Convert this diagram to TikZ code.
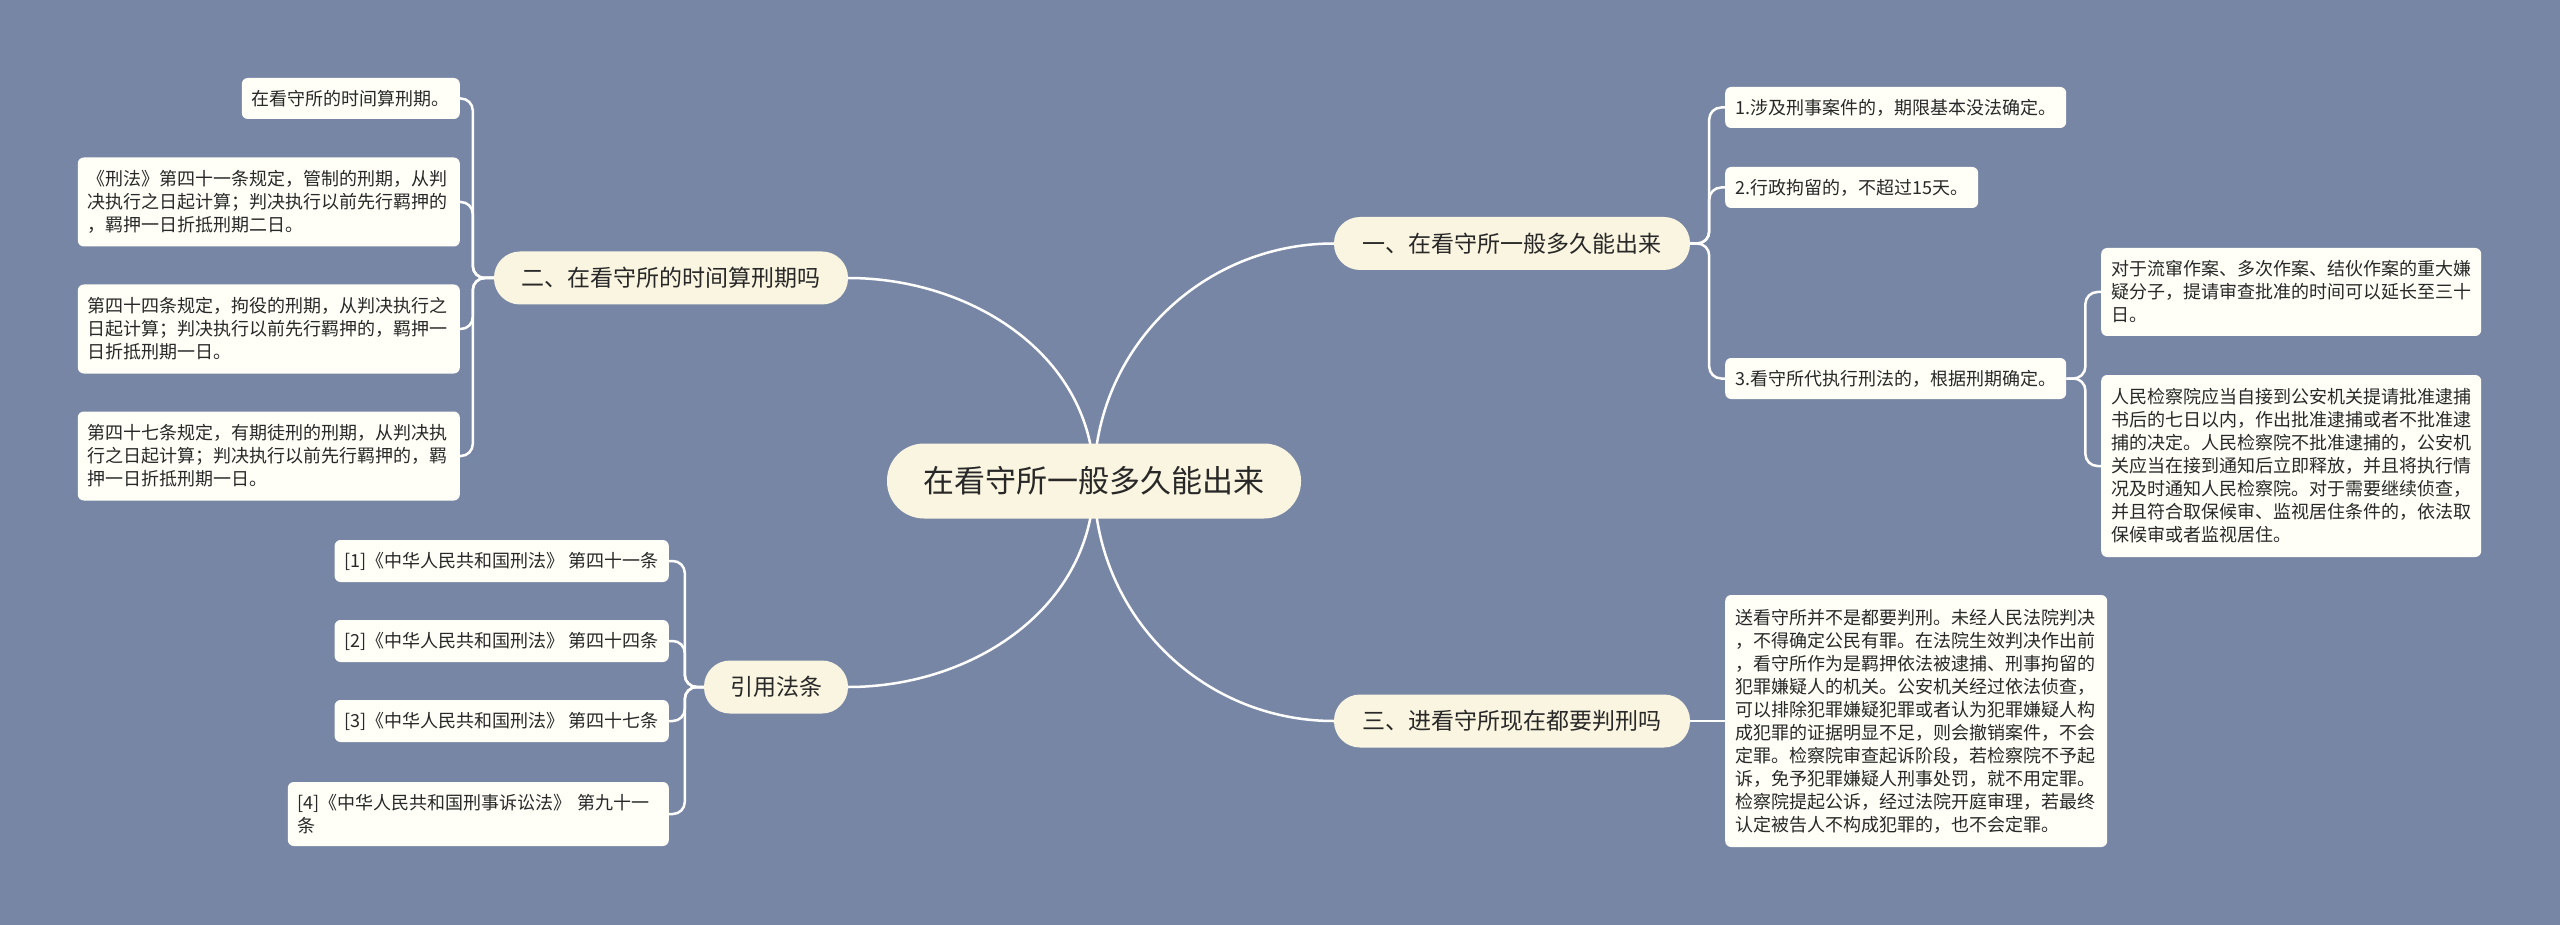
\documentclass[tikz,border=0pt]{standalone}
\usepackage{fontspec}
\setmainfont{Noto Sans CJK SC}
\definecolor{bgc}{RGB}{120,134,165}
\definecolor{cream}{RGB}{250,245,224}
\definecolor{leafc}{RGB}{255,255,248}
\definecolor{txt}{RGB}{40,40,40}
\pgfdeclarelayer{lines}
\pgfsetlayers{lines,main}
\tikzset{
  leaf/.style={fill=leafc, rounded corners=6pt, text=txt, font=\fontsize{18}{23}\selectfont, align=left, inner xsep=10pt, inner ysep=0pt},
  branch/.style={fill=cream, rounded corners=26pt, text=txt, font=\fontsize{23}{28}\selectfont, minimum height=53pt, inner sep=0pt},
  rootbox/.style={fill=cream, rounded corners=37pt, text=txt, font=\fontsize{31}{36}\selectfont, minimum height=75pt, minimum width=414pt, inner sep=0pt},
  link/.style={draw=white, line width=2.5pt},
  sublink/.style={draw=white, line width=2.5pt, rounded corners=12pt},
}
\begin{document}
\begin{tikzpicture}[x=1pt,y=1pt]
\useasboundingbox (0,0) rectangle (2560,-925);
% root
\node[rootbox] (root) at (1094,-481) {在看守所一般多久能出来};
% branches
\node[branch, minimum width=356pt] (b1) at (1512,-243.5) {一、在看守所一般多久能出来};
\node[branch, minimum width=356pt] (b3) at (1512,-721) {三、进看守所现在都要判刑吗};
\node[branch, minimum width=354pt] (b2) at (671,-278) {二、在看守所的时间算刑期吗};
\node[branch, minimum width=144pt] (b4) at (776,-687) {引用法条};
% right leaves of b1
\node[leaf, anchor=west, minimum height=41pt] (r1) at (1725,-107.5) {1.涉及刑事案件的，期限基本没法确定。};
\node[leaf, anchor=west, minimum height=41pt] (r2) at (1725,-187.5) {2.行政拘留的，不超过15天。};
\node[leaf, anchor=west, minimum height=41pt] (r3) at (1725,-378.5) {3.看守所代执行刑法的，根据刑期确定。};
\node[leaf, anchor=west, text width=360pt, minimum height=88pt] (sa) at (2101,-292) {对于流窜作案、多次作案、结伙作案的重大嫌\\疑分子，提请审查批准的时间可以延长至三十\\日。};
\node[leaf, anchor=west, text width=360pt, minimum height=182pt] (sb) at (2101,-466) {人民检察院应当自接到公安机关提请批准逮捕\\书后的七日以内，作出批准逮捕或者不批准逮\\捕的决定。人民检察院不批准逮捕的，公安机\\关应当在接到通知后立即释放，并且将执行情\\况及时通知人民检察院。对于需要继续侦查，\\并且符合取保候审、监视居住条件的，依法取\\保候审或者监视居住。};
% leaf of b3
\node[leaf, anchor=west, text width=362pt, minimum height=252pt] (t1) at (1725,-721) {送看守所并不是都要判刑。未经人民法院判决\\，不得确定公民有罪。在法院生效判决作出前\\，看守所作为是羁押依法被逮捕、刑事拘留的\\犯罪嫌疑人的机关。公安机关经过依法侦查，\\可以排除犯罪嫌疑犯罪或者认为犯罪嫌疑人构\\成犯罪的证据明显不足，则会撤销案件，不会\\定罪。检察院审查起诉阶段，若检察院不予起\\诉，免予犯罪嫌疑人刑事处罚，就不用定罪。\\检察院提起公诉，经过法院开庭审理，若最终\\认定被告人不构成犯罪的，也不会定罪。};
% left leaves of b2
\node[leaf, anchor=east, minimum height=41pt] (l1) at (460,-98.5) {在看守所的时间算刑期。};
\node[leaf, anchor=east, text width=362pt, minimum height=89pt] (l2) at (460,-202) {《刑法》第四十一条规定，管制的刑期，从判\\决执行之日起计算；判决执行以前先行羁押的\\，羁押一日折抵刑期二日。};
\node[leaf, anchor=east, text width=362pt, minimum height=89pt] (l3) at (460,-329) {第四十四条规定，拘役的刑期，从判决执行之\\日起计算；判决执行以前先行羁押的，羁押一\\日折抵刑期一日。};
\node[leaf, anchor=east, text width=362pt, minimum height=89pt] (l4) at (460,-456) {第四十七条规定，有期徒刑的刑期，从判决执\\行之日起计算；判决执行以前先行羁押的，羁\\押一日折抵刑期一日。};
% left leaves of b4
\node[leaf, anchor=east, minimum height=42pt] (c1) at (669,-561) {[1]《中华人民共和国刑法》 第四十一条};
\node[leaf, anchor=east, minimum height=42pt] (c2) at (669,-641) {[2]《中华人民共和国刑法》 第四十四条};
\node[leaf, anchor=east, minimum height=42pt] (c3) at (669,-721) {[3]《中华人民共和国刑法》 第四十七条};
\node[leaf, anchor=east, text width=361pt, minimum height=64pt] (c4) at (669,-814) {[4]《中华人民共和国刑事诉讼法》 第九十一\\条};
% junctions
\coordinate (j1) at ([xshift=19pt]b1.east);
\coordinate (j3) at ([xshift=19pt]r3.east);
\coordinate (j2) at ([xshift=-21pt]b2.west);
\coordinate (j4) at ([xshift=-19pt]b4.west);
\begin{pgfonlayer}{lines}
\fill[bgc] (0,0) rectangle (2560,-925);
\draw[link] (root.center) to[out=90,in=180] (b1.west);
\draw[link] (root.center) to[out=-90,in=180] (b3.west);
\draw[link] (root.center) to[out=90,in=0] (b2.east);
\draw[link] (root.center) to[out=-90,in=0] (b4.east);
\draw[sublink] (b1.east) -- (j1) |- (r1.west);
\draw[sublink] (b1.east) -- (j1) |- (r2.west);
\draw[sublink] (b1.east) -- (j1) |- (r3.west);
\draw[sublink] (r3.east) -- (j3) |- (sa.west);
\draw[sublink] (r3.east) -- (j3) |- (sb.west);
\draw[link] (b3.east) -- (t1.west);
\draw[sublink] (b2.west) -- (j2) |- (l1.east);
\draw[sublink] (b2.west) -- (j2) |- (l2.east);
\draw[sublink] (b2.west) -- (j2) |- (l3.east);
\draw[sublink] (b2.west) -- (j2) |- (l4.east);
\draw[sublink] (b4.west) -- (j4) |- (c1.east);
\draw[sublink] (b4.west) -- (j4) |- (c2.east);
\draw[sublink] (b4.west) -- (j4) |- (c3.east);
\draw[sublink] (b4.west) -- (j4) |- (c4.east);
\end{pgfonlayer}
\end{tikzpicture}
\end{document}
